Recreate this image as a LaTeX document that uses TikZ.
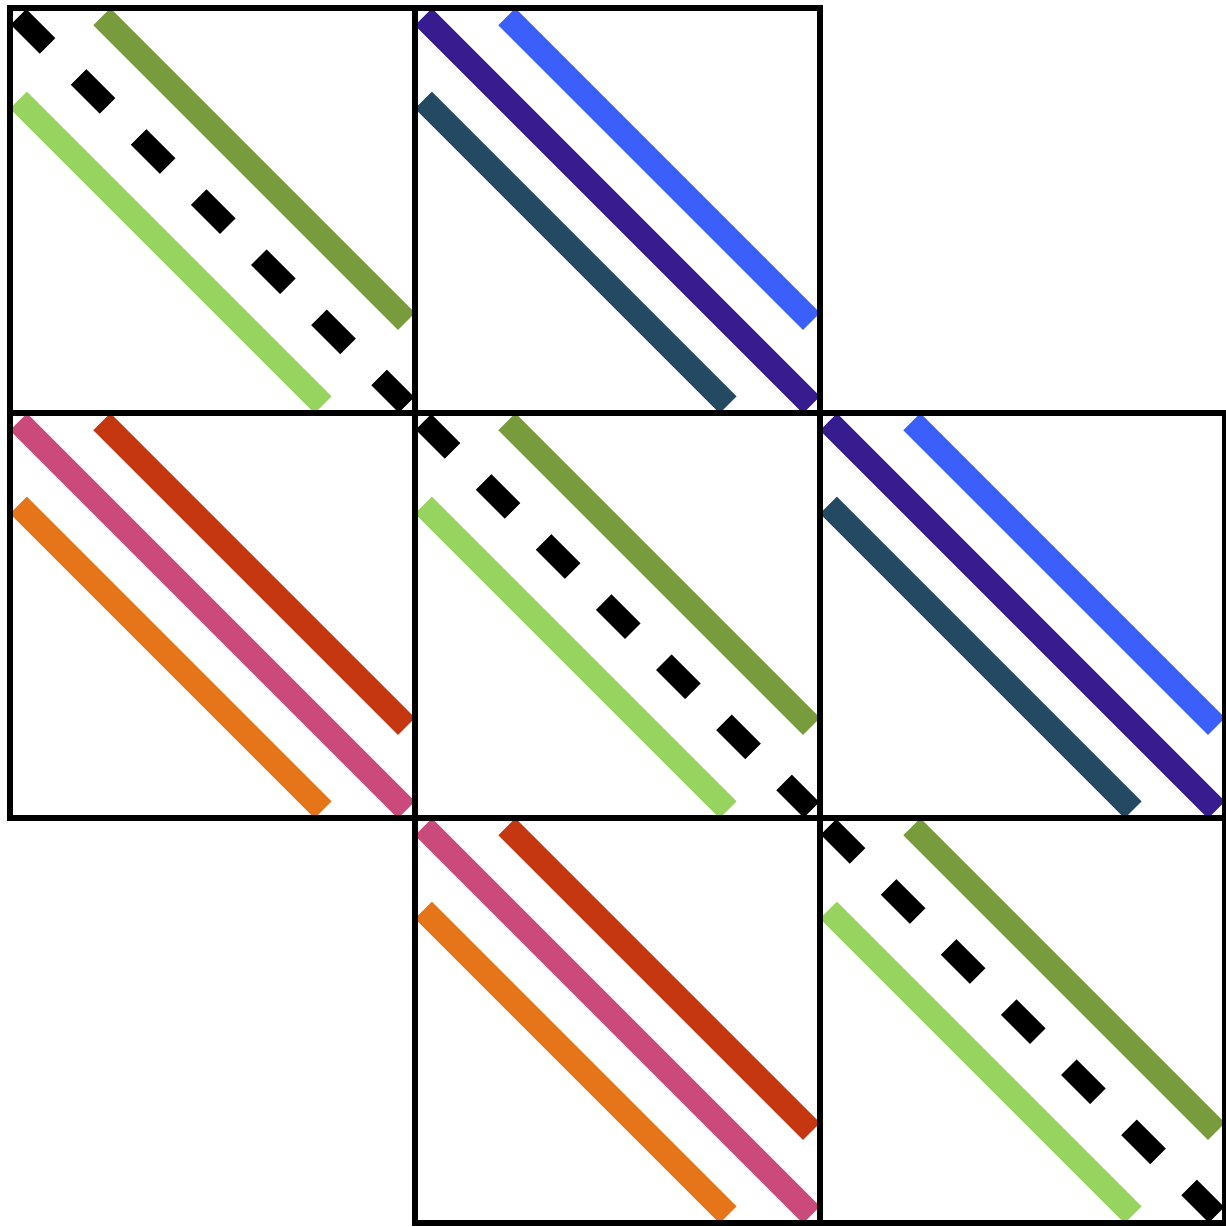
\documentclass[tikz,border=0pt]{standalone}
\usepackage{xcolor}
\usepackage{tikz}

\definecolor{leafdark}{HTML}{789C3C}
\definecolor{leaflight}{HTML}{96D35F}
\definecolor{inkpurple}{HTML}{371C90}
\definecolor{skyblue}{HTML}{3B5FFB}
\definecolor{slateteal}{HTML}{244A63}
\definecolor{rosepink}{HTML}{CB4A7C}
\definecolor{rustred}{HTML}{C43711}
\definecolor{pumpkin}{HTML}{E67519}
\def\bandgap{0.206}

\begin{document}
\begin{tikzpicture}[x=4.05cm,y=-4.05cm,
  band/.style={line width=2.4mm,shorten >=1.2mm,shorten <=1.2mm},
  frame/.style={line width=0.6mm}]
  \useasboundingbox (-0.0247,-0.0205) rectangle (3.0,3.0091);
  % green boxes with the dashed diagonal
  \foreach \c/\r in {0/0,1/1,2/2}{
    \draw[band,leafdark] (\c+\bandgap,\r) -- (\c+1,\r+1-\bandgap);
    \draw[band,black,line width=2.2mm,dash pattern=on 4.1mm off 4.4mm] (\c,\r) -- (\c+1,\r+1);
    \draw[band,leaflight] (\c,\r+\bandgap) -- (\c+1-\bandgap,\r+1);
  }
  % blue boxes
  \foreach \c/\r in {1/0,2/1}{
    \draw[band,skyblue] (\c+\bandgap,\r) -- (\c+1,\r+1-\bandgap);
    \draw[band,inkpurple] (\c,\r) -- (\c+1,\r+1);
    \draw[band,slateteal] (\c,\r+\bandgap) -- (\c+1-\bandgap,\r+1);
  }
  % red boxes
  \foreach \c/\r in {0/1,1/2}{
    \draw[band,rustred] (\c+\bandgap,\r) -- (\c+1,\r+1-\bandgap);
    \draw[band,rosepink] (\c,\r) -- (\c+1,\r+1);
    \draw[band,pumpkin] (\c,\r+\bandgap) -- (\c+1-\bandgap,\r+1);
  }
  \foreach \c/\r in {0/0,1/0,0/1,1/1,2/1,1/2,2/2}
    \draw[frame] (\c,\r) rectangle +(1,1);
\end{tikzpicture}
\end{document}
